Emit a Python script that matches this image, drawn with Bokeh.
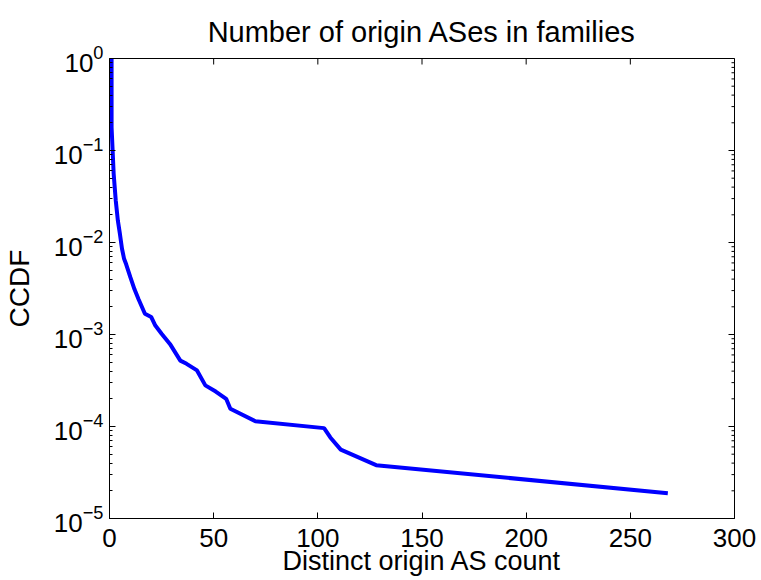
import math
from bokeh.plotting import figure
from bokeh.models import Range1d, FixedTicker
from bokeh.embed import file_html
from bokeh.resources import INLINE

# ---- data ----
as_count = [1, 1, 2, 3, 4, 5, 6, 7, 8, 10, 12, 14, 17, 20, 22, 25, 29, 34, 37,
            42, 46, 51, 56, 58, 70, 103, 106, 111, 128, 268]
ccdf = [1.0, 0.179, 0.0558, 0.0286, 0.0174, 0.0124, 0.00855, 0.00665, 0.0058,
        0.0042, 0.0031, 0.0024, 0.00168, 0.00155, 0.00125, 0.00102, 0.00079,
        0.00052, 0.00048, 0.000407, 0.00028, 0.00024, 0.0002, 0.000156,
        0.000114, 0.000096, 0.000076, 0.000056, 0.000038, 0.0000188]
x_ticks = [0, 50, 100, 150, 200, 250, 300]
y_ticks = [1e-5, 1e-4, 1e-3, 1e-2, 1e-1, 1.0]
y_minor = [m * d for d in y_ticks[:-1] for m in range(2, 10)]
title_text = "Number of origin ASes in families"
x_label = "Distinct origin AS count"
y_label = "CCDF"

FONT = "Liberation Sans"

p = figure(width=761, height=580, y_axis_type="log",
           x_range=Range1d(x_ticks[0], x_ticks[-1]),
           y_range=Range1d(y_ticks[0], y_ticks[-1]),
           output_backend="svg", toolbar_location=None,
           min_border_left=108, min_border_right=27,
           min_border_top=58, min_border_bottom=62,
           title=title_text)

p.background_fill_color = "white"
p.border_fill_color = "white"
p.outline_line_color = "black"
p.outline_line_width = 1
p.xgrid.visible = False
p.ygrid.visible = False

p.title.align = "center"
p.title.text_font = FONT
p.title.text_font_size = "29px"
p.title.text_font_style = "normal"
p.title.text_color = "black"
p.title.standoff = 22

p.line(as_count, ccdf, line_color="#0000FF", line_width=4)

# inward ticks on the top and right edges of the box (MATLAB "box on")
p.scatter(x_ticks, [y_ticks[-1]] * len(x_ticks), marker="dash", size=12,
          angle=math.pi / 2, line_color="black", line_width=1)
p.scatter([x_ticks[-1]] * len(y_ticks), y_ticks, marker="dash", size=12,
          line_color="black", line_width=1)
p.scatter([x_ticks[-1]] * len(y_minor), y_minor, marker="dash", size=6,
          line_color="black", line_width=1)


def style(ax):
    ax.axis_line_color = "black"
    ax.axis_line_width = 1
    ax.major_tick_in = 6
    ax.major_tick_out = 0
    ax.minor_tick_in = 3
    ax.minor_tick_out = 0
    ax.major_tick_line_color = "black"
    ax.minor_tick_line_color = "black"
    ax.major_label_text_font = FONT
    ax.major_label_text_color = "black"
    ax.major_label_text_font_size = "26px"
    ax.axis_label_text_font = FONT
    ax.axis_label_text_font_style = "normal"
    ax.axis_label_text_font_size = "27px"
    ax.axis_label_text_color = "black"


xax = p.xaxis[0]
xax.ticker = FixedTicker(ticks=x_ticks)
style(xax)
xax.major_label_standoff = 10
xax.axis_label = x_label
xax.axis_label_standoff = -4

yax = p.yaxis[0]
yax.ticker = FixedTicker(ticks=y_ticks, minor_ticks=y_minor)
style(yax)
yax.major_label_standoff = 6
yax.axis_label = y_label
yax.axis_label_text_font_size = "28px"
yax.axis_label_standoff = 16

open("out.html", "w").write(file_html(p, INLINE))
